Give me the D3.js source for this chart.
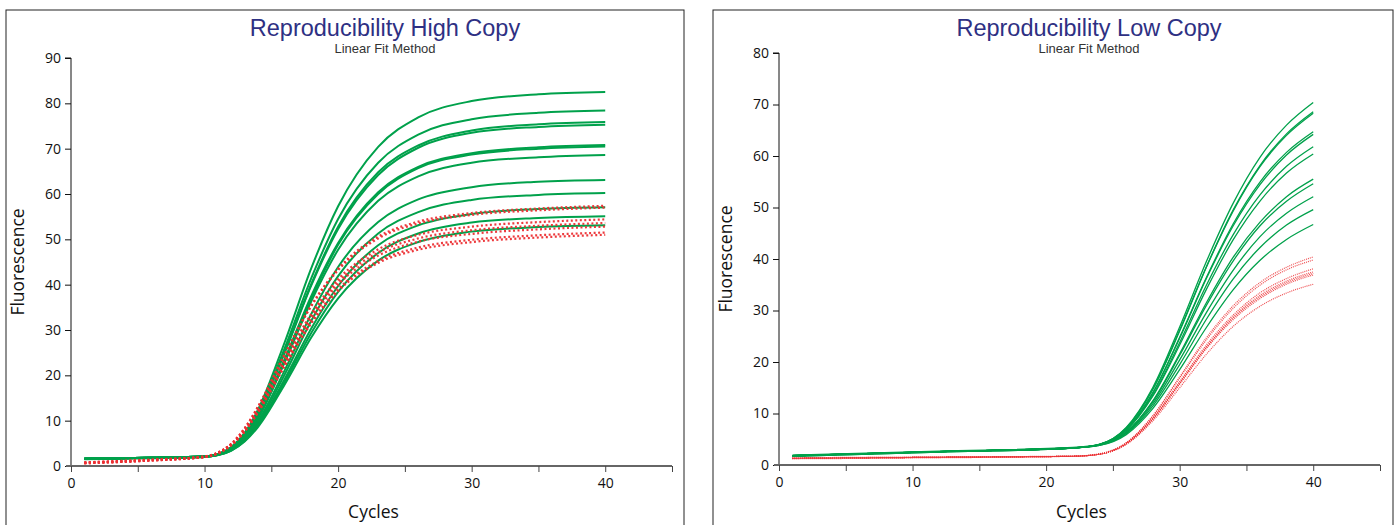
<!DOCTYPE html>
<html>
<head>
<meta charset="utf-8">
<script src="https://cdn.jsdelivr.net/npm/d3@7"></script>
<style>
  body { margin: 0; background: #fff; }
  svg { display: block; }
  .tick text { font-family: "Open Sans", "DejaVu Sans", sans-serif; }
</style>
</head>
<body>
<div id="chart"></div>
<script>

// ---- High copy panel ----
var highCycles = [1, 6, 10, 11, 12, 13, 14, 16, 18, 20, 23, 26, 30, 35, 40];

var highGreen = [
  [1.6,1.8,2.1,2.6,4.2,7.3,12.4,27.3,43.7,57.3,70.4,76.9,80.5,82.0,82.5],
  [1.6,1.8,2.1,2.6,4.1,7.1,11.9,26.0,41.5,54.5,66.9,73.1,76.5,77.9,78.4],
  [1.6,1.8,2.1,2.6,4.0,6.9,11.6,25.2,40.2,52.8,64.8,70.7,74.0,75.4,75.9],
  [1.6,1.8,2.1,2.6,4.0,6.8,11.5,25.0,39.9,52.3,64.2,70.2,73.5,74.8,75.3],
  [1.6,1.8,2.1,2.6,3.9,6.6,10.9,23.6,37.6,49.2,60.4,66.0,69.0,70.3,70.8],
  [1.5,1.7,2.0,2.5,3.7,6.3,10.5,23.0,37.0,48.8,60.0,65.7,68.7,70.0,70.5],
  [1.6,1.8,2.1,2.5,3.8,6.4,10.6,22.9,36.4,47.7,58.5,63.9,66.9,68.1,68.6],
  [1.6,1.8,2.1,2.5,3.7,6.0,9.9,21.1,33.6,43.9,53.8,58.8,61.5,62.7,63.1],
  [1.6,1.8,2.1,2.5,3.6,5.9,9.5,20.2,32.1,41.9,51.3,56.0,58.7,59.8,60.2],
  [1.6,1.8,2.1,2.4,3.5,5.6,9.1,19.2,30.4,39.7,48.7,53.1,55.6,56.7,57.1],
  [1.6,1.8,2.0,2.4,3.4,5.5,8.9,18.6,29.4,38.4,47.0,51.3,53.7,54.7,55.1],
  [1.6,1.8,2.0,2.4,3.4,5.4,8.6,18.0,28.4,37.0,45.3,49.4,51.7,52.7,53.1]
];

var highRed = [
  [0.7,1.3,2.1,3.0,4.9,8.3,13.1,24.7,35.5,43.5,50.6,53.9,55.8,56.8,57.4],
  [0.8,1.4,2.1,2.9,4.9,8.3,13.0,24.5,35.3,43.2,50.2,53.5,55.4,56.4,57.0],
  [0.7,1.3,2.0,2.9,4.8,8.0,12.5,23.4,33.6,41.2,47.8,51.0,52.8,53.8,54.4],
  [0.8,1.4,2.0,2.9,4.7,7.9,12.3,23.1,33.1,40.6,47.1,50.2,52.0,53.0,53.6],
  [0.7,1.3,2.0,2.9,4.7,7.8,12.1,22.7,32.6,40.0,46.4,49.5,51.2,52.2,52.8],
  [0.6,1.2,2.0,2.8,4.6,7.6,11.9,22.2,31.8,39.0,45.2,48.2,49.9,50.9,51.5],
  [0.6,1.2,2.0,2.8,4.6,7.6,11.8,22.0,31.5,38.6,44.8,47.7,49.4,50.4,51.0]
];

// ---- Low copy panel ----
var lowCycles = [1, 12, 22, 24, 26, 28, 30, 32, 34, 36, 38, 40];

var lowGreen = [
  [1.8,2.6,3.3,4.0,7.3,15.1,26.8,39.5,50.8,59.7,66.0,70.4],
  [1.8,2.6,3.3,4.0,7.2,14.8,26.2,38.5,49.5,58.1,64.3,68.6],
  [1.7,2.5,3.3,4.0,7.1,14.7,26.0,38.4,49.3,57.9,64.0,68.3],
  [1.8,2.6,3.3,4.0,6.9,14.1,24.8,36.4,46.8,54.9,60.7,64.7],
  [1.9,2.7,3.4,4.0,6.9,14.0,24.6,36.2,46.4,54.4,60.2,64.2],
  [1.8,2.6,3.3,3.9,6.8,13.6,23.8,34.9,44.7,52.4,58.0,61.8],
  [1.8,2.6,3.3,3.9,6.7,13.4,23.3,34.1,43.7,51.2,56.7,60.4],
  [1.8,2.6,3.3,3.9,6.4,12.5,21.6,31.5,40.3,47.1,52.1,55.5],
  [1.7,2.5,3.3,3.9,6.4,12.3,21.3,31.0,39.6,46.4,51.2,54.6],
  [1.8,2.6,3.3,3.9,6.2,11.9,20.4,29.6,37.8,44.3,48.9,52.1],
  [1.8,2.6,3.3,3.8,6.1,11.5,19.5,28.3,36.1,42.2,46.6,49.6],
  [1.8,2.6,3.3,3.8,5.9,11.0,18.5,26.7,34.0,39.7,43.8,46.7]
];

var lowRed = [
  [1.3,1.5,1.7,2.2,4.3,9.6,17.1,24.7,30.9,35.4,38.4,40.4],
  [1.3,1.5,1.7,2.1,4.3,9.5,16.9,24.3,30.4,34.9,37.9,39.8],
  [1.3,1.5,1.7,2.1,4.2,9.2,16.2,23.3,29.1,33.4,36.2,38.1],
  [1.2,1.4,1.7,2.1,4.2,9.0,16.0,22.9,28.7,32.9,35.7,37.5],
  [1.3,1.5,1.7,2.1,4.1,9.0,15.8,22.8,28.5,32.6,35.4,37.2],
  [1.4,1.6,1.7,2.1,4.1,8.9,15.7,22.6,28.2,32.3,35.1,36.9],
  [1.3,1.5,1.7,2.1,4.0,8.6,15.0,21.5,26.9,30.8,33.4,35.1]
];

var xTicks = [0, 10, 20, 30, 40];
var xMinorTicks = [0, 5, 10, 15, 20, 25, 30, 35, 40, 45];
var highYTicks = [0, 10, 20, 30, 40, 50, 60, 70, 80, 90];
var lowYTicks = [0, 10, 20, 30, 40, 50, 60, 70, 80];

var W = 1398, H = 525;

var svg = d3.select("#chart")
  .append("svg")
  .attr("width", W)
  .attr("height", H);

function drawPanel(p) {
  var g = svg.append("g");

  // frame
  g.append("rect")
    .attr("x", p.frame[0])
    .attr("y", p.frame[1])
    .attr("width", p.frame[2])
    .attr("height", p.frame[3])
    .attr("fill", "none")
    .attr("stroke", "#222")
    .attr("stroke-width", 1);

  var x = d3.scaleLinear().domain([0, 45]).range([p.left, p.right]);
  var y = d3.scaleLinear().domain([0, p.yMax]).range([p.bottom, p.top]);

  // titles
  g.append("text")
    .attr("x", p.titleX)
    .attr("y", 36)
    .attr("text-anchor", "middle")
    .style("font-family", "'Liberation Sans', Arial, sans-serif")
    .style("font-size", "23.5px")
    .attr("fill", "#2e3083")
    .text(p.title);

  g.append("text")
    .attr("x", p.titleX)
    .attr("y", 53)
    .attr("text-anchor", "middle")
    .style("font-family", "'Liberation Sans', Arial, sans-serif")
    .style("font-size", "13px")
    .attr("fill", "#333")
    .text("Linear Fit Method");

  // y axis
  var yAxis = d3.axisLeft(y)
    .tickValues(p.yTicks)
    .tickSize(6)
    .tickPadding(4)
    .tickFormat(d3.format("d"));

  var ya = g.append("g")
    .attr("transform", "translate(" + p.left + ",0)")
    .call(yAxis);
  ya.select(".domain").attr("stroke", "#111").attr("d", "M-6," + p.top + "H0V" + p.bottom);
  ya.selectAll(".tick line").attr("stroke", "#111");
  ya.selectAll(".tick text").style("font-size", "14px").attr("fill", "#111");

  // x axis: minor ticks every 5, labels every 10
  var xAxis = d3.axisBottom(x)
    .tickValues(xMinorTicks)
    .tickSize(6)
    .tickPadding(6)
    .tickFormat(function(d){ return xTicks.indexOf(d) >= 0 ? d : ""; });

  var xa = g.append("g")
    .attr("transform", "translate(0," + p.bottom + ")")
    .call(xAxis);
  xa.select(".domain")
    .attr("stroke", "#666")
    .attr("stroke-width", 2)
    .attr("d", "M" + (p.left - 5) + ",0H" + p.right);
  xa.selectAll(".tick line").attr("stroke", "#444");
  xa.selectAll(".tick text").style("font-size", "14px").attr("fill", "#111");

  // axis titles
  g.append("text")
    .attr("x", x(22.5) + 2)
    .attr("y", 518)
    .attr("text-anchor", "middle")
    .style("font-family", "'Open Sans', sans-serif")
    .style("font-size", "17.5px")
    .attr("fill", "#111")
    .text("Cycles");

  g.append("text")
    .attr("transform", "translate(" + (p.left - 47) + "," + ((p.top + p.bottom) / 2) + ") rotate(-90)")
    .attr("text-anchor", "middle")
    .style("font-family", "'Open Sans', sans-serif")
    .style("font-size", "17.5px")
    .attr("fill", "#111")
    .text("Fluorescence");

  var line = d3.line()
    .x(function(d, i){ return x(p.cycles[i]); })
    .y(function(d){ return y(d); })
    .curve(d3.curveMonotoneX);

  g.append("g").selectAll("path")
    .data(p.green)
    .join("path")
    .attr("d", line)
    .attr("fill", "none")
    .attr("stroke", "#00a14b")
    .attr("stroke-width", p.greenWidth);

  g.append("g").selectAll("path")
    .data(p.red)
    .join("path")
    .attr("d", line)
    .attr("fill", "none")
    .attr("stroke", "#ec2f33")
    .attr("stroke-width", p.redWidth)
    .attr("stroke-dasharray", p.redDash)
    .attr("opacity", p.redOpacity);
}

drawPanel({
  frame: [6, 10, 678, 530],
  left: 71, right: 672, top: 58, bottom: 466,
  yMax: 90, yTicks: highYTicks,
  title: "Reproducibility High Copy", titleX: 385,
  cycles: highCycles, green: highGreen, red: highRed,
  greenWidth: 2, redWidth: 2.2, redDash: "2,2.5", redOpacity: 0.95
});

drawPanel({
  frame: [713, 10, 680, 530],
  left: 779, right: 1380, top: 53, bottom: 465,
  yMax: 80, yTicks: lowYTicks,
  title: "Reproducibility Low Copy", titleX: 1089,
  cycles: lowCycles, green: lowGreen, red: lowRed,
  greenWidth: 1.3, redWidth: 1.2, redDash: "1,1", redOpacity: 0.85
});

</script>
</body>
</html>
